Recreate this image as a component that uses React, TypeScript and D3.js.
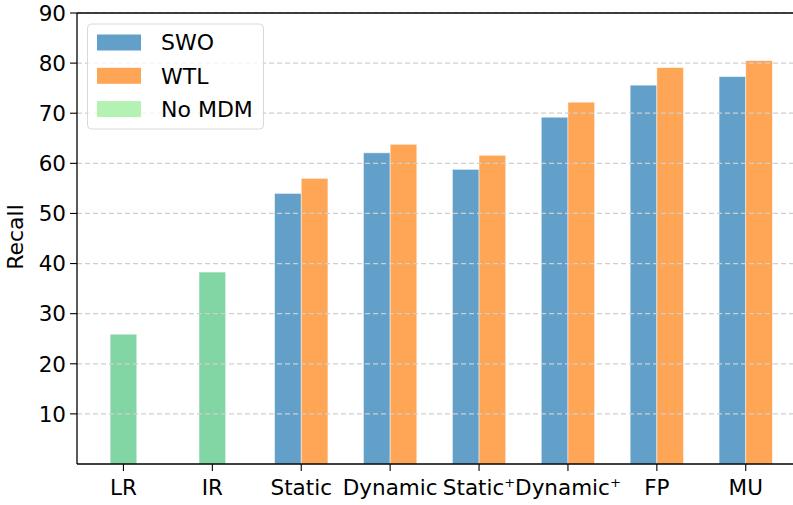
import * as d3 from "d3";

const categories = ["LR", "IR", "Static", "Dynamic", "Static", "Dynamic", "FP", "MU"];
const superscripts = ["", "", "", "", "+", "+", "", ""];
const noMdmValues: (number | null)[] = [25.9, 38.3, null, null, null, null, null, null];
const swoValues: (number | null)[] = [null, null, 54.0, 62.1, 58.8, 69.2, 75.6, 77.3];
const wtlValues: (number | null)[] = [null, null, 57.0, 63.8, 61.6, 72.2, 79.1, 80.5];
const yTicks = [10, 20, 30, 40, 50, 60, 70, 80, 90];

const legendItems = [
  { label: "SWO", color: "#62a0ca" },
  { label: "WTL", color: "#ffa556" },
  { label: "No MDM", color: "#b3f2b3" },
];

const W = 793;
const H = 505;
const left = 77;
const top = 13;
const bottom = 464;
const barW = 0.3;
const font = "DejaVu Sans, sans-serif";

export default function App() {
  const x = d3.scaleLinear().domain([-0.5225, 7.6725]).range([left, left + 8.195 * 88.9]);
  const y = d3.scaleLinear().domain([0, 90]).range([bottom, top]);
  const bw = x(barW) - x(0);

  const bars = (vals: (number | null)[], offset: number, color: string, key: string) =>
    vals.map((v, i) =>
      v == null ? null : (
        <rect
          key={key + i}
          x={x(i + offset - barW / 2)}
          y={y(v)}
          width={bw}
          height={y(0) - y(v)}
          fill={color}
          stroke="#ffffff"
          strokeOpacity={0.6}
          strokeWidth={0.8}
        />
      )
    );

  return (
    <svg
      width={W}
      height={H}
      style={{ position: "absolute", left: 0, top: 0, background: "#fff" }}
      fontFamily={font}
    >
      {bars(noMdmValues, 0, "#82d6a3", "g")}
      {bars(swoValues, -0.15, "#62a0ca", "b")}
      {bars(wtlValues, 0.15, "#ffa556", "o")}

      {/* grid */}
      {yTicks.map((t) => (
        <line
          key={"g" + t}
          x1={left}
          x2={W}
          y1={y(t)}
          y2={y(t)}
          stroke="#cfcfcf"
          strokeWidth={1.2}
          strokeDasharray="5,3"
        />
      ))}

      {/* spines */}
      <line x1={left} x2={left} y1={top} y2={bottom} stroke="#000" strokeWidth={1.3} />
      <line x1={left} x2={W} y1={bottom} y2={bottom} stroke="#000" strokeWidth={1.3} />
      <line x1={left} x2={W} y1={top} y2={top} stroke="#000" strokeWidth={1.3} />

      {/* y ticks */}
      {yTicks.map((t) => (
        <g key={"yt" + t}>
          <line x1={left - 7} x2={left} y1={y(t)} y2={y(t)} stroke="#000" strokeWidth={1.1} />
          <text x={left - 11} y={y(t)} dy="0.36em" textAnchor="end" fontSize={21.5} fill="#000">
            {t}
          </text>
        </g>
      ))}

      {/* x ticks */}
      {categories.map((c, i) => (
        <g key={"xt" + i}>
          <line x1={x(i)} x2={x(i)} y1={bottom} y2={bottom + 7} stroke="#000" strokeWidth={1.1} />
          <text x={x(i)} y={495} textAnchor="middle" fontSize={21.5} fill="#000">
            {c}
            {superscripts[i] && (
              <tspan fontSize={13} dy={-8}>
                {superscripts[i]}
              </tspan>
            )}
          </text>
        </g>
      ))}

      <text
        transform="translate(23,237) rotate(-90)"
        textAnchor="middle"
        fontSize={22}
        fill="#000"
      >
        Recall
      </text>

      {/* legend */}
      <rect
        x={87.5}
        y={24}
        width={176}
        height={105}
        rx={4}
        fill="#fff"
        fillOpacity={0.8}
        stroke="#d9d9d9"
        strokeWidth={1}
      />
      {legendItems.map((d, i) => (
        <g key={d.label}>
          <rect x={97} y={34.5 + i * 33.3} width={44} height={16} fill={d.color} />
          <text x={161} y={42.5 + i * 33.3} dy="0.36em" fontSize={22} fill="#000">
            {d.label}
          </text>
        </g>
      ))}
    </svg>
  );
}
